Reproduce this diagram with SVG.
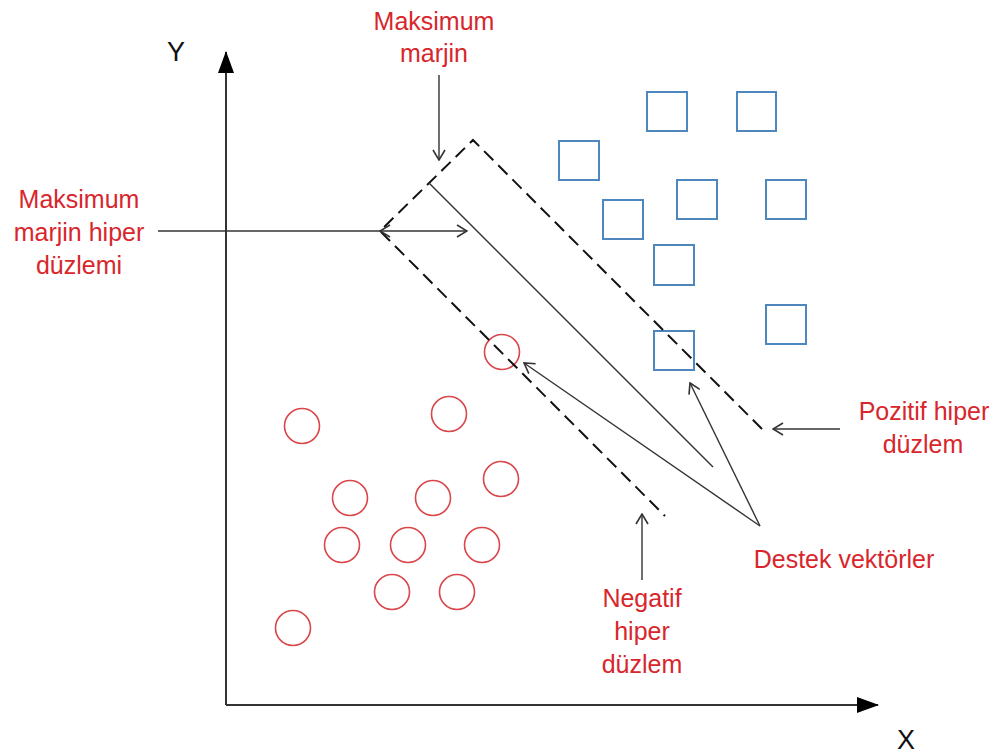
<svg xmlns="http://www.w3.org/2000/svg" width="995" height="755" viewBox="0 0 995 755">
  <style>
    .lbl { font-family: "Liberation Sans", Arial, sans-serif; font-size: 25px; fill: #d8262c; text-anchor: middle; }
    .axlbl { font-family: "Liberation Sans", Arial, sans-serif; font-size: 27px; fill: #111; text-anchor: middle; }
    .pos { fill: none; stroke: #4d87bd; stroke-width: 2; }
    .neg { fill: none; stroke: #d9474b; stroke-width: 1.6; }
    .axis { stroke: #333; stroke-width: 2; fill: none; }
    .thin { stroke: #333; stroke-width: 1.4; fill: none; }
    .dash { stroke: #111; stroke-width: 2; fill: none; stroke-dasharray: 13 7; }
  </style>
  <defs>
    <marker id="open" viewBox="0 0 12 14" refX="11" refY="7" markerWidth="12" markerHeight="14" markerUnits="userSpaceOnUse" orient="auto-start-reverse">
      <path d="M1,1 L11,7 L1,13" fill="none" stroke="#333" stroke-width="1.6"/>
    </marker>
    <marker id="solid" viewBox="0 0 22 16" refX="21" refY="8" markerWidth="22" markerHeight="16" markerUnits="userSpaceOnUse" orient="auto">
      <path d="M0,0 L22,8 L0,16 Z" fill="#000"/>
    </marker>
  </defs>

  <!-- axes -->
  <g id="axes">
    <line class="axis" x1="226" y1="705" x2="226" y2="52" marker-end="url(#solid)"/>
    <line class="axis" x1="226" y1="705" x2="878" y2="705" marker-end="url(#solid)"/>
    <text class="axlbl" x="176" y="61">Y</text>
    <text class="axlbl" x="906" y="749">X</text>
  </g>

  <!-- positive class samples -->
  <g id="positive">
    <rect class="pos" x="647" y="92" width="40" height="39"/>
    <rect class="pos" x="737" y="92" width="39" height="39"/>
    <rect class="pos" x="559" y="141" width="40" height="39"/>
    <rect class="pos" x="677" y="180" width="40" height="39"/>
    <rect class="pos" x="766" y="180" width="40" height="39"/>
    <rect class="pos" x="603" y="200" width="40" height="39"/>
    <rect class="pos" x="654" y="245" width="40" height="40"/>
    <rect class="pos" x="654" y="331" width="40" height="39"/>
    <rect class="pos" x="766" y="305" width="40" height="39"/>
  </g>

  <!-- negative class samples -->
  <g id="negative">
    <circle class="neg" cx="502" cy="352" r="17.5"/>
    <circle class="neg" cx="302" cy="426" r="17.5"/>
    <circle class="neg" cx="449" cy="414" r="17.5"/>
    <circle class="neg" cx="501" cy="479" r="17.5"/>
    <circle class="neg" cx="350" cy="498" r="17.5"/>
    <circle class="neg" cx="433" cy="498" r="17.5"/>
    <circle class="neg" cx="342" cy="545" r="17.5"/>
    <circle class="neg" cx="408" cy="545" r="17.5"/>
    <circle class="neg" cx="482" cy="545" r="17.5"/>
    <circle class="neg" cx="392" cy="592" r="17.5"/>
    <circle class="neg" cx="457" cy="592" r="17.5"/>
    <circle class="neg" cx="293" cy="628" r="17.5"/>
  </g>

  <!-- margin band and separating hyperplane -->
  <g id="hyperplanes">
    <path class="dash" d="M762,429 L473,140 L380,231 L665,516"/>
    <line class="thin" x1="429" y1="183" x2="713" y2="467"/>
  </g>

  <!-- connectors -->
  <g id="connectors">
    <line class="thin" x1="439" y1="75" x2="439" y2="160" marker-end="url(#open)"/>
    <line class="thin" x1="158" y1="231" x2="380" y2="231"/>
    <line class="thin" x1="380" y1="231" x2="467" y2="231" marker-start="url(#open)" marker-end="url(#open)"/>
    <line class="thin" x1="760" y1="526" x2="524" y2="363" marker-end="url(#open)"/>
    <line class="thin" x1="760" y1="526" x2="690" y2="383" marker-end="url(#open)"/>
    <line class="thin" x1="642" y1="580" x2="642" y2="514" marker-end="url(#open)"/>
    <line class="thin" x1="840" y1="429" x2="773" y2="429" marker-end="url(#open)"/>
  </g>

  <!-- labels -->
  <g id="label-max-margin">
    <text class="lbl" x="434" y="30">Maksimum</text>
    <text class="lbl" x="434" y="62">marjin</text>
  </g>
  <g id="label-max-margin-hyperplane">
    <text class="lbl" x="79" y="208">Maksimum</text>
    <text class="lbl" x="79" y="241">marjin hiper</text>
    <text class="lbl" x="79" y="274">düzlemi</text>
  </g>
  <g id="label-positive-hyperplane">
    <text class="lbl" x="924" y="420">Pozitif hiper</text>
    <text class="lbl" x="923" y="453">düzlem</text>
  </g>
  <g id="label-support-vectors">
    <text class="lbl" x="844" y="568">Destek vektörler</text>
  </g>
  <g id="label-negative-hyperplane">
    <text class="lbl" x="642" y="607">Negatif</text>
    <text class="lbl" x="642" y="640">hiper</text>
    <text class="lbl" x="642" y="673">düzlem</text>
  </g>
</svg>
